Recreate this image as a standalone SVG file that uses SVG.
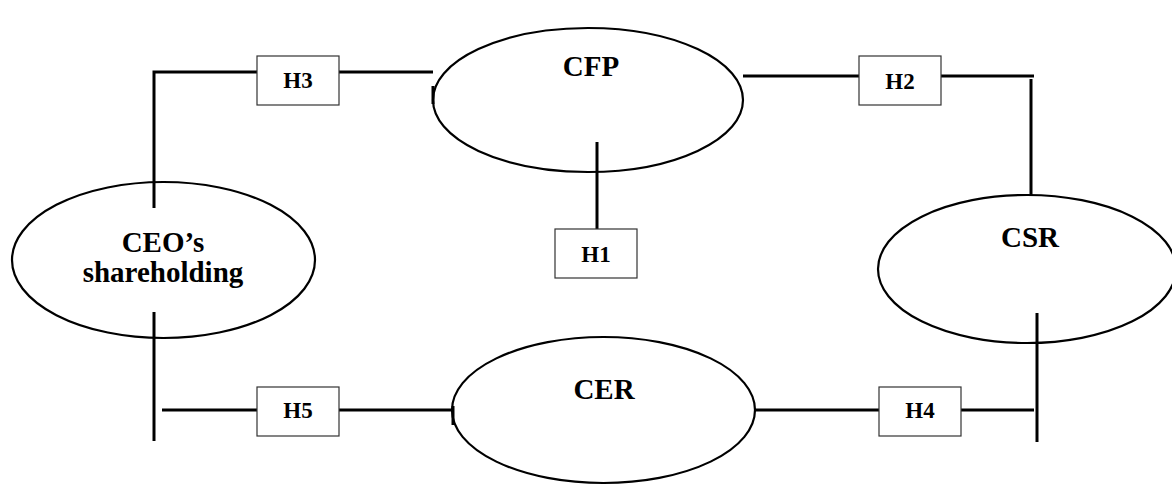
<svg xmlns="http://www.w3.org/2000/svg" width="1172" height="488" viewBox="0 0 1172 488">
<style>
.ell{fill:#fff;stroke:#000;stroke-width:2.2}
.box{fill:#fff;stroke:#333;stroke-width:1.2}
.ln{stroke:#000;stroke-width:3;fill:none}
.lbl{font-family:"Liberation Serif","Times New Roman",serif;font-weight:bold;font-size:29px;text-anchor:middle;fill:#000}
.hl{font-family:"Liberation Serif","Times New Roman",serif;font-weight:bold;font-size:23px;text-anchor:middle;fill:#000}
</style>
<rect width="1172" height="488" fill="#fff"/>
<g id="nodes-ellipses">
<g id="CFP"><ellipse class="ell" cx="588" cy="100" rx="155" ry="72"/><text class="lbl" x="591" y="76">CFP</text></g>
<g id="CEO"><ellipse class="ell" cx="163.5" cy="260" rx="151.5" ry="78"/><text class="lbl" x="163" y="252">CEO’s</text><text class="lbl" x="163" y="282">shareholding</text></g>
<g id="CSR"><ellipse class="ell" cx="1027" cy="269" rx="149" ry="74"/><text class="lbl" x="1030" y="247">CSR</text></g>
<g id="CER"><ellipse class="ell" cx="603.5" cy="410" rx="151.5" ry="73"/><text class="lbl" x="604" y="399">CER</text></g>
</g>
<g id="connectors">
<polyline class="ln" points="154,208 154,72 257,72"/>
<line class="ln" x1="339" y1="72" x2="433" y2="72"/>
<line class="ln" x1="433" y1="86" x2="433" y2="104"/>
<line class="ln" x1="743" y1="76" x2="859" y2="76"/>
<line class="ln" x1="941" y1="76" x2="1034" y2="76"/>
<line class="ln" x1="1031" y1="79" x2="1031" y2="195"/>
<line class="ln" x1="597" y1="142" x2="597" y2="229"/>
<line class="ln" x1="154" y1="312" x2="154" y2="441"/>
<line class="ln" x1="162" y1="410" x2="257" y2="410"/>
<line class="ln" x1="339" y1="410" x2="453" y2="410"/>
<line class="ln" x1="453" y1="406" x2="453" y2="425"/>
<line class="ln" x1="755" y1="410" x2="879" y2="410"/>
<line class="ln" x1="961" y1="410" x2="1034" y2="410"/>
<line class="ln" x1="1037" y1="313" x2="1037" y2="442"/>
</g>
<g id="H3"><rect class="box" x="257" y="56" width="82" height="49"/><text class="hl" x="298" y="88">H3</text></g>
<g id="H2"><rect class="box" x="859" y="56" width="82" height="49"/><text class="hl" x="900" y="89">H2</text></g>
<g id="H1"><rect class="box" x="555" y="229" width="82" height="49"/><text class="hl" x="596" y="262">H1</text></g>
<g id="H5"><rect class="box" x="257" y="387" width="82" height="49"/><text class="hl" x="298" y="418">H5</text></g>
<g id="H4"><rect class="box" x="879" y="387" width="82" height="49"/><text class="hl" x="920" y="418">H4</text></g>
</svg>
